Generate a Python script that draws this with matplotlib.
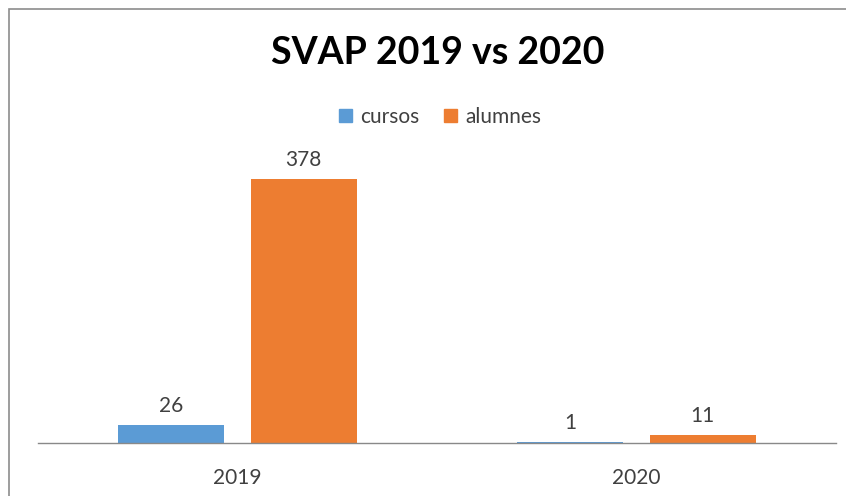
import matplotlib
matplotlib.use("Agg")
import matplotlib.pyplot as plt
from matplotlib.patches import Rectangle, Patch
import numpy as np

categories = ["2019", "2020"]
series_names = ["cursos", "alumnes"]
cursos = [26, 1]
alumnes = [378, 11]
colors = ["#5B9BD5", "#ED7D31"]

W, H = 846, 496
fig = plt.figure(figsize=(W / 100, H / 100), dpi=100)
plt.rcParams['font.family'] = ['Lato', 'DejaVu Sans']

# outer chart border
fig.patches.append(Rectangle((9 / W, -0.2), 1.2, 1.2 - 9 / H, transform=fig.transFigure,
                             fill=False, edgecolor="#8c8c8c", linewidth=1.2))

ax = fig.add_axes([38 / W, (H - 443) / H, (836 - 38) / W, (443 - 164) / H])
x = np.arange(len(categories))
bw = 0.265
off = 0.166
text_col = "#404040"
for vals, c, sgn, name in [(cursos, colors[0], -1, series_names[0]), (alumnes, colors[1], 1, series_names[1])]:
    bars = ax.bar(x + sgn * off, vals, width=bw, color=c, label=name)
    for b, v in zip(bars, vals):
        ax.text(b.get_x() + b.get_width() / 2, v + 13, str(v), ha="center", va="bottom",
                fontsize=15, color=text_col)

ax.set_xlim(-0.5, 1.5)
ax.set_ylim(0, 400)
ax.set_yticks([])
ax.set_xticks(x)
ax.set_xticklabels(categories, fontsize=15, color=text_col)
ax.tick_params(axis="x", length=0, pad=18)
for s in ["top", "right", "left"]:
    ax.spines[s].set_visible(False)
ax.spines["bottom"].set_color("#898989")
ax.spines["bottom"].set_linewidth(1.0)

fig.text(438 / W, 1 - 53 / H, "SVAP 2019 vs 2020", ha="center", va="center",
         fontsize=27, fontweight="bold", color="black")

handles = [Patch(color=colors[0], label=series_names[0]), Patch(color=colors[1], label=series_names[1])]
fig.legend(handles=handles, loc="center", bbox_to_anchor=(440 / W, 1 - 117 / H), ncol=2,
           frameon=False, fontsize=15, handlelength=0.6, handleheight=0.6,
           handletextpad=0.4, columnspacing=1.2, labelcolor=text_col)

fig.savefig("out.png", dpi=100)
